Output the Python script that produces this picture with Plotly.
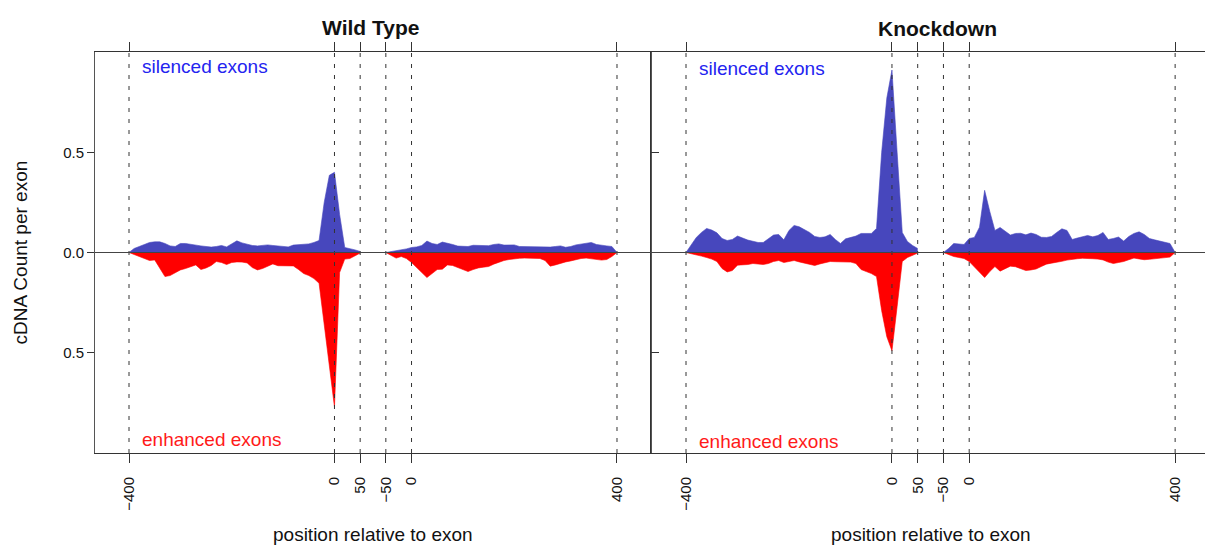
import plotly.graph_objects as go

# ---------------- data ----------------
# positions (bp) of the upstream window
UP_POS = [-400, -390, -380, -370, -360, -350, -340, -330, -320, -310,
          -300, -290, -280, -270, -260, -250, -240, -230, -220, -210,
          -200, -190, -180, -170, -160, -150, -140, -130, -120, -110,
          -100, -90, -80, -70, -60, -50, -40, -30, -20, -10,
          0, 10, 20, 30, 40, 50]
# positions (bp) of the downstream window
DN_POS = [-50, -40, -30, -20, -10, 0, 10, 20, 30, 40,
          50, 60, 70, 80, 90, 100, 110, 120, 130, 140,
          150, 160, 170, 180, 190, 200, 210, 220, 230, 240,
          250, 260, 270, 280, 290, 300, 310, 320, 330, 340,
          350, 360, 370, 380, 390, 400]

# Wild Type
WT_SIL_UP = [0, 0.02, 0.03, 0.04, 0.05, 0.053, 0.053, 0.045, 0.033, 0.03,
             0.045, 0.045, 0.04, 0.037, 0.033, 0.03, 0.027, 0.03, 0.035, 0.028,
             0.045, 0.058, 0.048, 0.04, 0.035, 0.033, 0.035, 0.038, 0.035, 0.033,
             0.03, 0.028, 0.037, 0.04, 0.042, 0.043, 0.05, 0.06, 0.25, 0.385,
             0.40, 0.19, 0.025, 0.02, 0.013, 0.005]
WT_ENH_UP = [0, 0.01, 0.02, 0.03, 0.04, 0.037, 0.08, 0.12, 0.115, 0.1,
             0.087, 0.08, 0.072, 0.062, 0.085, 0.077, 0.065, 0.045, 0.05, 0.06,
             0.05, 0.047, 0.048, 0.052, 0.075, 0.087, 0.08, 0.067, 0.057, 0.066,
             0.067, 0.067, 0.067, 0.085, 0.105, 0.115, 0.13, 0.153, 0.36, 0.56,
             0.77, 0.1, 0.033, 0.03, 0.015, 0.003]
WT_SIL_DN = [0, 0.004, 0.009, 0.013, 0.018, 0.025, 0.028, 0.035, 0.057, 0.045,
             0.04, 0.052, 0.047, 0.04, 0.032, 0.03, 0.03, 0.036, 0.035, 0.033,
             0.034, 0.04, 0.043, 0.037, 0.036, 0.038, 0.03, 0.029, 0.028, 0.027,
             0.027, 0.027, 0.027, 0.03, 0.033, 0.026, 0.03, 0.038, 0.043, 0.048,
             0.05, 0.04, 0.035, 0.033, 0.03, 0]
WT_ENH_DN = [0, 0.015, 0.028, 0.02, 0.03, 0.05, 0.075, 0.1, 0.125, 0.105,
             0.085, 0.083, 0.062, 0.065, 0.075, 0.085, 0.095, 0.085, 0.077, 0.073,
             0.07, 0.058, 0.048, 0.04, 0.035, 0.031, 0.029, 0.028, 0.028, 0.028,
             0.03, 0.04, 0.068, 0.062, 0.054, 0.047, 0.042, 0.036, 0.03, 0.028,
             0.032, 0.034, 0.038, 0.035, 0.02, 0]

# Knockdown
KD_SIL_UP = [0, 0.04, 0.075, 0.1, 0.12, 0.112, 0.098, 0.07, 0.06, 0.065,
             0.082, 0.072, 0.062, 0.056, 0.05, 0.05, 0.07, 0.087, 0.09, 0.063,
             0.11, 0.135, 0.128, 0.115, 0.1, 0.08, 0.075, 0.078, 0.09, 0.065,
             0.045, 0.068, 0.075, 0.082, 0.095, 0.095, 0.095, 0.12, 0.5, 0.77,
             0.91, 0.5, 0.1, 0.055, 0.035, 0.02]
KD_ENH_UP = [0, 0.005, 0.012, 0.018, 0.025, 0.033, 0.045, 0.08, 0.097, 0.09,
             0.063, 0.063, 0.06, 0.055, 0.058, 0.06, 0.055, 0.045, 0.04, 0.05,
             0.045, 0.04, 0.047, 0.052, 0.06, 0.065, 0.057, 0.05, 0.045, 0.046,
             0.047, 0.047, 0.048, 0.055, 0.085, 0.095, 0.105, 0.12, 0.29, 0.42,
             0.49, 0.27, 0.045, 0.025, 0.015, 0.003]
KD_SIL_DN = [0, 0.02, 0.045, 0.042, 0.04, 0.07, 0.075, 0.126, 0.31, 0.205,
             0.11, 0.125, 0.105, 0.087, 0.095, 0.096, 0.088, 0.097, 0.09, 0.076,
             0.075, 0.08, 0.1, 0.118, 0.11, 0.065, 0.072, 0.08, 0.085, 0.078,
             0.085, 0.1, 0.065, 0.07, 0.077, 0.057, 0.08, 0.095, 0.103, 0.09,
             0.07, 0.063, 0.057, 0.05, 0.045, 0]
KD_ENH_DN = [0, 0.01, 0.02, 0.025, 0.03, 0.045, 0.07, 0.095, 0.125, 0.095,
             0.07, 0.093, 0.082, 0.068, 0.071, 0.08, 0.09, 0.087, 0.082, 0.07,
             0.058, 0.053, 0.05, 0.044, 0.038, 0.033, 0.031, 0.029, 0.029, 0.031,
             0.033, 0.037, 0.048, 0.055, 0.05, 0.045, 0.036, 0.028, 0.032, 0.036,
             0.034, 0.032, 0.03, 0.027, 0.023, 0]

UP_TICKS = [-400, 0, 50]
DN_TICKS = [-50, 0, 400]
X_TICK_TEXT = ["\u2212400", "0", "50", "\u221250", "0", "400"]
Y_TICKS = [0.5, 0.0, -0.5]
Y_TICK_TEXT = ["0.5", "0.0", "0.5"]

PANEL_TITLES = ["Wild Type", "Knockdown"]

# layout of the broken axis: upstream window then downstream window
UP_OFFSET = 400
DN_OFFSET = 550

BLUE = "#4747BD"
RED = "#FF0000"
FONT = "Liberation Sans, Arial, Helvetica, sans-serif"

fig = go.Figure()

panels = [
    ("x", "y", WT_SIL_UP, WT_ENH_UP, WT_SIL_DN, WT_ENH_DN),
    ("x2", "y2", KD_SIL_UP, KD_ENH_UP, KD_SIL_DN, KD_ENH_DN),
]

for xa, ya, sil_up, enh_up, sil_dn, enh_dn in panels:
    ux = [p + UP_OFFSET for p in UP_POS]
    dx = [q + DN_OFFSET for q in DN_POS]
    for xs, ys, col in [(ux, sil_up, BLUE), (dx, sil_dn, BLUE),
                        (ux, [-v for v in enh_up], RED), (dx, [-v for v in enh_dn], RED)]:
        fig.add_trace(go.Scatter(x=xs, y=ys, xaxis=xa, yaxis=ya, mode="lines",
                                 line=dict(width=0.6, color=col), fill="tozeroy",
                                 fillcolor=col, showlegend=False, hoverinfo="skip"))

tick_u = [p + UP_OFFSET for p in UP_TICKS] + [q + DN_OFFSET for q in DN_TICKS]

LINE_COL = "#333333"
common_x = dict(tickvals=tick_u, ticktext=X_TICK_TEXT, tickangle=-90,
                ticks="outside", ticklen=9, tickcolor=LINE_COL, tickwidth=1,
                showline=True, linecolor=LINE_COL, linewidth=1, mirror="ticks",
                showgrid=False, zeroline=False, ticklabelstandoff=8,
                tickfont=dict(family=FONT, size=15, color="#111"))

fig.update_layout(
    width=1205, height=545,
    margin=dict(l=95, r=0, t=52, b=92),
    paper_bgcolor="white", plot_bgcolor="white",
    xaxis=dict(domain=[0, 556 / 1110], range=[-66.2, 1016.2], anchor="y", **common_x),
    xaxis2=dict(domain=[556 / 1110, 1], range=[-68.0, 1008.0], anchor="y2", **common_x),
    yaxis=dict(domain=[0, 1], range=[-1.0, 1.0], anchor="x", tickvals=Y_TICKS,
               ticktext=Y_TICK_TEXT, ticks="outside", ticklen=7, tickcolor=LINE_COL,
               showline=True, linecolor="#555", linewidth=1, mirror=True,
               showgrid=False, zeroline=False,
               tickfont=dict(family=FONT, size=15, color="#111")),
    yaxis2=dict(domain=[0, 1], range=[-1.0, 1.0], anchor="x2", tickvals=Y_TICKS,
                ticks="inside", ticklen=8, tickcolor=LINE_COL, showticklabels=False,
                showline=True, linecolor=LINE_COL, linewidth=1, mirror=False,
                showgrid=False, zeroline=False),
)

shapes = []
for xr, yr in [("x", "y domain"), ("x2", "y2 domain")]:
    for u in tick_u:
        shapes.append(dict(type="line", xref=xr, yref=yr, x0=u, x1=u, y0=0, y1=1,
                           line=dict(color=LINE_COL, width=1, dash="4px,7px"), layer="above"))
shapes.append(dict(type="line", xref="paper", yref="y", x0=0, x1=1, y0=0, y1=0,
                   line=dict(color="#444", width=1), layer="above"))
fig.update_layout(shapes=shapes)

ann = []
# panel titles
ann.append(dict(text="<b>" + PANEL_TITLES[0] + "</b>", xref="paper", yref="paper",
                x=(370 - 95) / 1110, y=1 + (52 - 27) / 401, xanchor="center", yanchor="middle",
                showarrow=False, font=dict(family=FONT, size=21, color="#111")))
ann.append(dict(text="<b>" + PANEL_TITLES[1] + "</b>", xref="paper", yref="paper",
                x=(937 - 95) / 1110, y=1 + (52 - 29) / 401, xanchor="center", yanchor="middle",
                showarrow=False, font=dict(family=FONT, size=21, color="#111")))
# in-panel labels
for xr, yr, ys, ye in [("x", "y", 0.93, -0.935), ("x2", "y2", 0.92, -0.945)]:
    ann.append(dict(text="silenced exons", xref=xr, yref=yr, x=22, y=ys, xanchor="left",
                    yanchor="middle", showarrow=False,
                    font=dict(family=FONT, size=19, color="#2424F0")))
    ann.append(dict(text="enhanced exons", xref=xr, yref=yr, x=22, y=ye, xanchor="left",
                    yanchor="middle", showarrow=False,
                    font=dict(family=FONT, size=19, color="#FF1A1A")))
# axis titles
for cx in [373, 931]:
    ann.append(dict(text="position relative to exon", xref="paper", yref="paper",
                    x=(cx - 95) / 1110, y=-(534 - 453) / 401, xanchor="center", yanchor="middle",
                    showarrow=False, font=dict(family=FONT, size=19, color="#111")))
ann.append(dict(text="cDNA Count per exon", xref="paper", yref="paper",
                x=-(95 - 20) / 1110, y=0.5, xanchor="center", yanchor="middle", textangle=-90,
                showarrow=False, font=dict(family=FONT, size=19, color="#111")))
fig.update_layout(annotations=ann)

fig.write_html("out.html")
